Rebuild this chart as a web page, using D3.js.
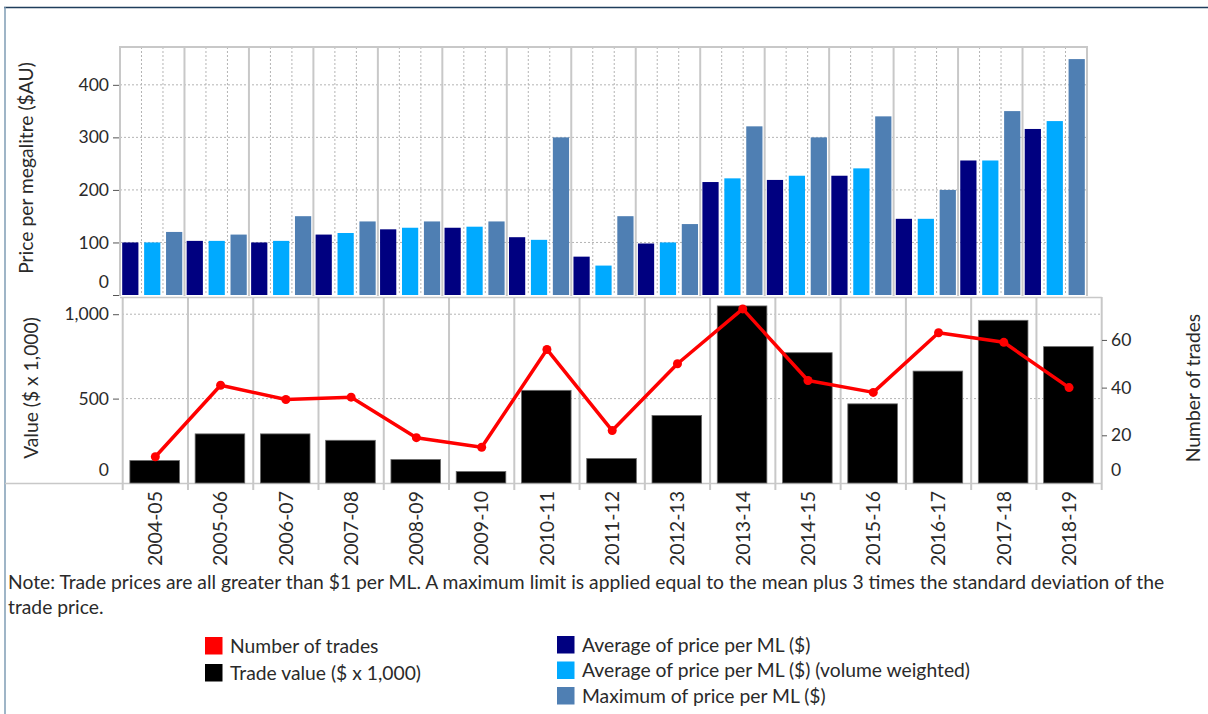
<!DOCTYPE html>
<html>
<head>
<meta charset="utf-8">
<script src="https://cdn.jsdelivr.net/npm/d3@7"></script>
<style>
  body { margin: 0; background: #fff; }
  svg text { font-family: Lato, "Noto Sans", sans-serif; fill: #2a2a2a; }
</style>
</head>
<body>
<svg id="chart" width="1208" height="714"></svg>
<script>
const years = ["2004-05", "2005-06", "2006-07", "2007-08", "2008-09", "2009-10", "2010-11", "2011-12",
  "2012-13", "2013-14", "2014-15", "2015-16", "2016-17", "2017-18", "2018-19"];
const avgPrice = [100, 103, 100, 115, 125, 128, 110, 73, 98, 215, 219, 227, 145, 256, 316];
const vwPrice = [100, 103, 103, 118, 128, 130, 105, 56, 100, 222, 227, 241, 145, 256, 331];
const maxPrice = [120, 115, 150, 140, 140, 140, 300, 150, 135, 321, 300, 340, 200, 350, 449];
const tradeValue = [133, 291, 291, 253, 139, 68, 549, 145, 400, 1049, 772, 469, 663, 964, 808];
const numTrades = [11, 41, 35, 36, 19, 15, 56, 22, 50, 73, 43, 38, 63, 59, 40];

const priceTicks = [0, 100, 200, 300, 400];
const valueTicks = [0, 500, 1000];
const tradeTicks = [0, 20, 40, 60];

const priceSeries = ["Average of price per ML ($)", "Average of price per ML ($) (volume weighted)", "Maximum of price per ML ($)"];
const priceColors = ["#000080", "#00aaff", "#4f7fb3"];
const priceData = [avgPrice, vwPrice, maxPrice];

const gridColor = "#c8c8c8";
const labelSize = "19.3px";
const svg = d3.select("#chart");

// frame
svg.append("line").attr("x1", 4).attr("x2", 1208).attr("y1", 7.5).attr("y2", 7.5)
  .attr("stroke", "#1f3d5c").attr("stroke-width", 1.5);
svg.append("line").attr("x1", 5).attr("x2", 5).attr("y1", 7).attr("y2", 714)
  .attr("stroke", "#7f9db5").attr("stroke-width", 1.5);

// ---------- top panel: prices ----------
const xTop = d3.scaleBand().domain(years).range([120, 1087]);
const xSub = d3.scaleBand().domain(priceSeries).range([0, xTop.bandwidth()])
  .paddingInner(0.26).paddingOuter(0.1);
const yPrice = d3.scaleLinear().domain([0, 472]).range([295, 47]);

const topPanel = svg.append("g");

topPanel.append("g")
  .selectAll("line")
  .data(priceTicks.slice(1))
  .enter()
  .append("line")
  .attr("x1", 120).attr("x2", 1087)
  .attr("y1", function (d) { return yPrice(d); })
  .attr("y2", function (d) { return yPrice(d); })
  .attr("stroke", "#b4b4b4").attr("stroke-dasharray", "2,2");

years.forEach(function (yr) {
  const bw = xTop.bandwidth();
  [1, 2].forEach(function (k) {
    topPanel.append("line")
      .attr("x1", xTop(yr) + bw * k / 3).attr("x2", xTop(yr) + bw * k / 3)
      .attr("y1", 47).attr("y2", 295)
      .attr("stroke", "#b4b4b4").attr("stroke-dasharray", "2,2");
  });
});

topPanel.append("g")
  .selectAll("line")
  .data(years.slice(1))
  .enter()
  .append("line")
  .attr("x1", function (d) { return xTop(d); })
  .attr("x2", function (d) { return xTop(d); })
  .attr("y1", 47).attr("y2", 296)
  .attr("stroke", gridColor).attr("stroke-width", 2);

topPanel.append("path")
  .attr("d", "M120,296V47H1087V296")
  .attr("fill", "none").attr("stroke", gridColor).attr("stroke-width", 2);

priceSeries.forEach(function (s, i) {
  topPanel.append("g")
    .selectAll("rect")
    .data(priceData[i])
    .enter()
    .append("rect")
    .attr("x", function (d, j) { return xTop(years[j]) + xSub(s); })
    .attr("width", xSub.bandwidth())
    .attr("y", function (d) { return yPrice(d); })
    .attr("height", function (d) { return yPrice(0) - yPrice(d); })
    .attr("fill", priceColors[i]);
});

const yPriceAxis = svg.append("g")
  .attr("transform", "translate(119,0)")
  .call(d3.axisLeft(yPrice).tickValues(priceTicks).tickSize(6).tickPadding(4));

// ---------- bottom panel: trade value and count ----------
const xBot = d3.scaleBand().domain(years).range([122.7, 1101.7]);
const yValue = d3.scaleLinear().domain([0, 1102]).range([483, 297]);
const yTrades = d3.scaleLinear().domain([0, 78]).range([483, 297]);

const botPanel = svg.append("g");

botPanel.append("g")
  .selectAll("line")
  .data(valueTicks.slice(1))
  .enter()
  .append("line")
  .attr("x1", 122).attr("x2", 1101)
  .attr("y1", function (d) { return yValue(d); })
  .attr("y2", function (d) { return yValue(d); })
  .attr("stroke", "#b4b4b4").attr("stroke-dasharray", "2,2");

botPanel.append("g")
  .selectAll("line")
  .data(years)
  .enter()
  .append("line")
  .attr("x1", function (d) { return xBot(d); })
  .attr("x2", function (d) { return xBot(d); })
  .attr("y1", 297).attr("y2", 490)
  .attr("stroke", gridColor).attr("stroke-width", 2);

botPanel.append("line")
  .attr("x1", 1101.7).attr("x2", 1101.7).attr("y1", 297).attr("y2", 490)
  .attr("stroke", gridColor).attr("stroke-width", 2);
botPanel.append("line")
  .attr("x1", 120).attr("x2", 1101.7).attr("y1", 297.5).attr("y2", 297.5)
  .attr("stroke", gridColor).attr("stroke-width", 1.5);
botPanel.append("line")
  .attr("x1", 5).attr("x2", 1101.7).attr("y1", 483.5).attr("y2", 483.5)
  .attr("stroke", gridColor).attr("stroke-width", 1.5);

botPanel.append("g")
  .selectAll("rect")
  .data(tradeValue)
  .enter()
  .append("rect")
  .attr("x", function (d, i) { return xBot(years[i]) + xBot.bandwidth() * 0.11; })
  .attr("width", xBot.bandwidth() * 0.76)
  .attr("y", function (d) { return yValue(d); })
  .attr("height", function (d) { return yValue(0) - yValue(d); })
  .attr("fill", "#000")
  .attr("stroke", "#6a6a6a").attr("stroke-width", 0.8);

const tradeLine = d3.line()
  .x(function (d, i) { return xBot(years[i]) + xBot.bandwidth() / 2; })
  .y(function (d) { return yTrades(d); });

botPanel.append("path")
  .datum(numTrades)
  .attr("d", tradeLine)
  .attr("fill", "none")
  .attr("stroke", "#ff0000")
  .attr("stroke-width", 3.5)
  .attr("stroke-linejoin", "round");

botPanel.append("g")
  .selectAll("circle")
  .data(numTrades)
  .enter()
  .append("circle")
  .attr("cx", function (d, i) { return xBot(years[i]) + xBot.bandwidth() / 2; })
  .attr("cy", function (d) { return yTrades(d); })
  .attr("r", 4.5)
  .attr("fill", "#ff0000");

const yValueAxis = svg.append("g")
  .attr("transform", "translate(119,0)")
  .call(d3.axisLeft(yValue).tickValues(valueTicks).tickFormat(d3.format(",")).tickSize(6).tickPadding(4));

const yTradesAxis = svg.append("g")
  .attr("transform", "translate(1102,0)")
  .call(d3.axisRight(yTrades).tickValues(tradeTicks).tickSize(5).tickPadding(4));

[yPriceAxis, yValueAxis, yTradesAxis].forEach(function (ax) {
  ax.select(".domain").remove();
  ax.selectAll(".tick line").attr("stroke", "#555");
  ax.selectAll(".tick text").style("font-size", "17.5px").attr("fill", "#2a2a2a");
  ax.selectAll(".tick").filter(function (d) { return d === 0; })
    .select("text").attr("dy", "-0.45em");
  ax.selectAll(".tick").filter(function (d) { return d === 0; })
    .select("line").attr("stroke-opacity", ax === yPriceAxis ? 1 : 0);
});

// year labels
svg.append("g")
  .selectAll("text")
  .data(years)
  .enter()
  .append("text")
  .attr("transform", function (d) {
    return "translate(" + (xBot(d) + xBot.bandwidth() / 2) + ",491) rotate(-90)";
  })
  .attr("text-anchor", "end")
  .attr("dy", "0.35em")
  .style("font-size", "19.5px")
  .text(function (d) { return d; });

// axis titles
svg.append("text")
  .attr("transform", "translate(26,168) rotate(-90)")
  .attr("text-anchor", "middle").attr("dy", "0.35em")
  .style("font-size", labelSize)
  .text("Price per megalitre ($AU)");

svg.append("text")
  .attr("transform", "translate(31,388) rotate(-90)")
  .attr("text-anchor", "middle").attr("dy", "0.35em")
  .style("font-size", labelSize)
  .text("Value ($ x 1,000)");

svg.append("text")
  .attr("transform", "translate(1193,388) rotate(-90)")
  .attr("text-anchor", "middle").attr("dy", "0.35em")
  .style("font-size", labelSize)
  .text("Number of trades");

// note
svg.append("text").attr("x", 8).attr("y", 589).style("font-size", labelSize)
  .text("Note: Trade prices are all greater than $1 per ML. A maximum limit is applied equal to the mean plus 3 times the standard deviation of the");
svg.append("text").attr("x", 8).attr("y", 614).style("font-size", labelSize)
  .text("trade price.");

// legends
const leftLegend = [{ name: "Number of trades", color: "#ff0000" }, { name: "Trade value ($ x 1,000)", color: "#000" }];
const legA = svg.append("g")
  .selectAll("g")
  .data(leftLegend)
  .enter()
  .append("g")
  .attr("transform", function (d, i) { return "translate(205," + (637 + i * 27) + ")"; });
legA.append("rect").attr("width", 17.5).attr("height", 17.5)
  .attr("fill", function (d) { return d.color; });
legA.append("text").attr("x", 25).attr("y", 9).attr("dy", "0.35em").style("font-size", labelSize)
  .text(function (d) { return d.name; });

const legB = svg.append("g")
  .selectAll("g")
  .data(priceSeries)
  .enter()
  .append("g")
  .attr("transform", function (d, i) { return "translate(557," + (636 + i * 25.5) + ")"; });
legB.append("rect").attr("width", 17.5).attr("height", 17.5)
  .attr("fill", function (d, i) { return priceColors[i]; });
legB.append("text").attr("x", 25).attr("y", 9).attr("dy", "0.35em").style("font-size", labelSize)
  .text(function (d) { return d; });
</script>
</body>
</html>
